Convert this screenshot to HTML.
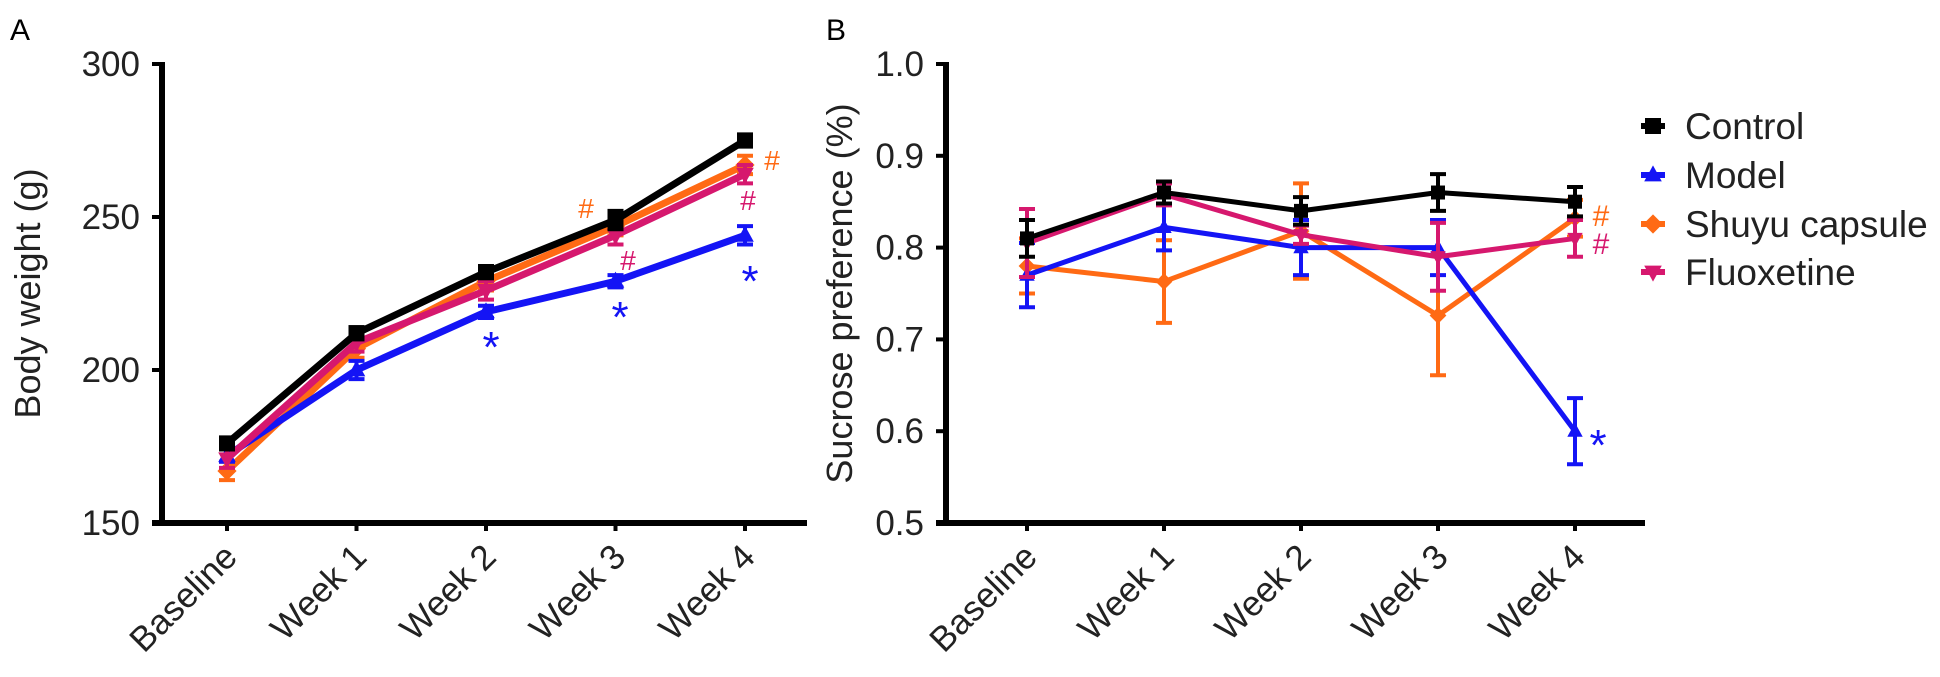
<!DOCTYPE html>
<html><head><meta charset="utf-8"><style>
html,body{margin:0;padding:0;background:#fff;}
svg{display:block;font-family:"Liberation Sans",Arial,sans-serif;}
</style></head><body>
<svg id="fig" width="1940" height="677" viewBox="0 0 1940 677">
<text x="10" y="40" font-size="30">A</text>
<text x="826" y="40" font-size="30">B</text>
<g id="pa"></g>
<g id="pb"></g>
<g id="legend"></g>
</svg>
<script>
const categories = ["Baseline","Week 1","Week 2","Week 3","Week 4"];
const seriesNames = ["Control","Model","Shuyu capsule","Fluoxetine"];
const colors = ["#000000","#1414f5","#ff6a14","#d6186e"];
const markers = ["square","tri-up","diamond","tri-down"];
// Panel A body weight (g)
const bwControl = [176,212,232,249,275];
const bwModel = [172,200,219,229,244];
const bwShuyu = [167,207,229,247,267];
const bwFluox = [171,209,226,244,264];
const bwErr = [[2,2,2,3,2],[2,3,2,2,3],[3,3,3,3,3],[3,3,3,3,3]];
const bwTicks = [150,200,250,300];
// Panel B sucrose preference
const spControl = [0.81,0.86,0.84,0.86,0.85];
const spModel = [0.77,0.822,0.80,0.80,0.60];
const spShuyu = [0.78,0.763,0.818,0.726,0.832];
const spFluox = [0.805,0.858,0.814,0.79,0.81];
const spErr = [[0.02,0.012,0.015,0.02,0.016],[0.035,0.025,0.03,0.03,0.036],[0.03,0.045,0.052,0.065,0.02],[0.037,0.012,0.01,0.037,0.02]];
const spTicks = [0.5,0.6,0.7,0.8,0.9,1.0];
const spTickLabels = ["0.5","0.6","0.7","0.8","0.9","1.0"];

const NS="http://www.w3.org/2000/svg";
function mk(parent,tag,attrs){const e=document.createElementNS(NS,tag);for(const k in attrs)e.setAttribute(k,attrs[k]);parent.appendChild(e);return e;}

function marker(g,type,x,y,s,c){
  let pts;
  if(type==="square"){pts=[[x-s,y-s],[x+s,y-s],[x+s,y+s],[x-s,y+s]];}
  else if(type==="tri-up"){pts=[[x,y-s*1.2],[x+s*1.1,y+s*0.8],[x-s*1.1,y+s*0.8]];}
  else if(type==="tri-down"){pts=[[x,y+s*1.2],[x+s*1.1,y-s*0.8],[x-s*1.1,y-s*0.8]];}
  else {pts=[[x,y-s*1.2],[x+s*1.2,y],[x,y+s*1.2],[x-s*1.2,y]];}
  return mk(g,"polygon",{points:pts.map(q=>q.join(",")).join(" "),fill:c});
}

function panel(g,cfg){
  const {x0,x1,yTop,yBot,vmin,vmax,cx0,cdx,ticks,tickLabels,data,errs,lw,ms,title,titleX} = cfg;
  const xs=i=>cx0+i*cdx;
  const ys=v=>yBot-(v-vmin)/(vmax-vmin)*(yBot-yTop);
  const ax=mk(g,"line",{x1:x0,y1:yTop-2,x2:x0,y2:yBot+2,stroke:"#000","stroke-width":6});
  
  
  const bx=mk(g,"line",{x1:x0-10,y1:yBot,x2:x1,y2:yBot,stroke:"#000","stroke-width":6});
  
  
  ticks.forEach((t,i)=>{
    const y=ys(t);
    mk(g,"line",{x1:x0-10,y1:y,x2:x0,y2:y,stroke:"#000","stroke-width":4});
    const tx=mk(g,"text",{x:x0-22,y:y+12,"font-size":35,"text-anchor":"end",fill:"#222"});
    tx.textContent=tickLabels[i];
    
    
  });
  categories.forEach((c,i)=>{
    const x=xs(i);
    mk(g,"line",{x1:x,y1:yBot,x2:x,y2:yBot+8,stroke:"#000","stroke-width":4});
    const ax2=x+12, ay=yBot+36;
    const tx=mk(g,"text",{x:ax2,y:ay,"font-size":35,"text-anchor":"end",fill:"#222",transform:`rotate(-45 ${ax2} ${ay})`});
    tx.textContent=c;
    
    
  });
  const yt=mk(g,"text",{x:titleX,y:(yTop+yBot)/2,"font-size":36,"text-anchor":"middle",fill:"#222",transform:`rotate(-90 ${titleX} ${(yTop+yBot)/2})`});
  yt.textContent=title;
  
  
  const order=[2,1,3,0];
  order.forEach(si=>{
    const sg=mk(g,"g",{});
    
    
    const vals=data[si];
    const pl=mk(sg,"polyline",{points:vals.map((v,i)=>xs(i)+","+ys(v)).join(" "),fill:"none",stroke:colors[si],"stroke-width":lw,"stroke-linejoin":"round"});
    
    
    vals.forEach((v,i)=>{
      const e=errs[si][i],x=xs(i);
      mk(sg,"path",{d:`M${x},${ys(v+e)}V${ys(v-e)}M${x-8},${ys(v+e)}H${x+8}M${x-8},${ys(v-e)}H${x+8}`,stroke:colors[si],"stroke-width":4,fill:"none"});
      const m=marker(sg,markers[si],x,ys(v),ms,colors[si]);
      
      
    });
  });
  return {xs,ys};
}

panel(document.getElementById("pa"),{x0:162,x1:807,yTop:64,yBot:523,vmin:150,vmax:300,cx0:227,cdx:129.5,ticks:bwTicks,tickLabels:bwTicks.map(String),data:[bwControl,bwModel,bwShuyu,bwFluox],errs:bwErr,lw:7,ms:8,title:"Body weight (g)",titleX:40});
panel(document.getElementById("pb"),{x0:946,x1:1645,yTop:64,yBot:523,vmin:0.5,vmax:1.0,cx0:1027,cdx:137,ticks:spTicks,tickLabels:spTickLabels,data:[spControl,spModel,spShuyu,spFluox],errs:spErr,lw:5,ms:7,title:"Sucrose preference (%)",titleX:852});

function note(t,x,y,c,size){
  const e=mk(document.getElementById("fig"),"text",{x:x,y:y,"font-size":size,fill:c,"text-anchor":"middle"});
  e.textContent=t;
  
  
}
note("*",491,362,colors[1],44);note("*",620,332,colors[1],44);note("*",750,296,colors[1],44);
note("#",586,218,colors[2],28);note("#",772,170,colors[2],28);
note("#",628,270,colors[3],28);note("#",748,210,colors[3],28);
note("#",1601,226,colors[2],30);note("#",1601,254,colors[3],30);note("*",1598,460,colors[1],44);

const lg=document.getElementById("legend");
const ly=[126,175,224,272];
seriesNames.forEach((n,i)=>{
  const it=mk(lg,"g",{});
  
  
  mk(it,"line",{x1:1641,y1:ly[i],x2:1665,y2:ly[i],stroke:colors[i],"stroke-width":6});
  marker(it,markers[i],1653,ly[i],8,colors[i]);
  const t=mk(it,"text",{x:1685,y:ly[i]+13,"font-size":37,fill:"#222"});
  t.textContent=n;
});
</script>
</body></html>
